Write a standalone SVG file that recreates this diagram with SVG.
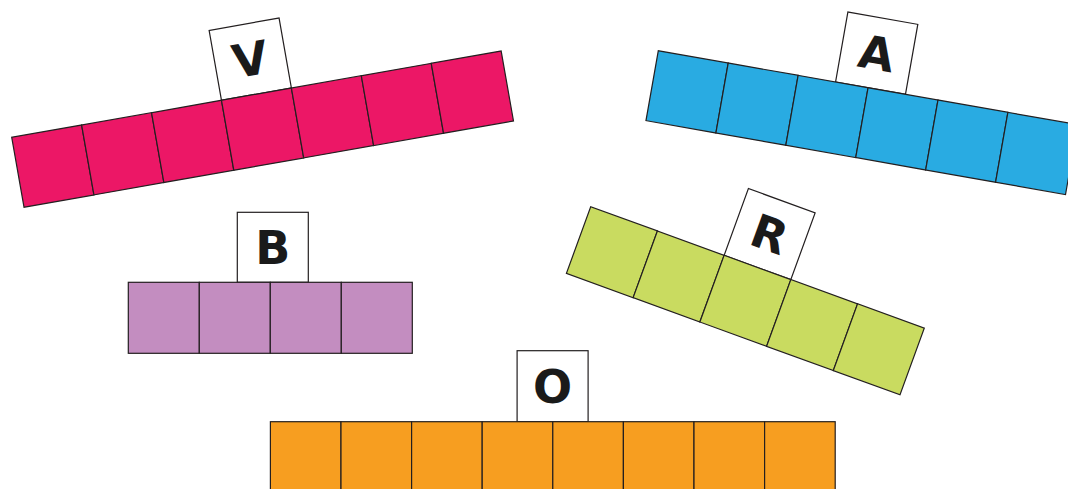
<svg xmlns="http://www.w3.org/2000/svg" width="1068" height="489" viewBox="0 0 1068 489">
<style>
.sq{stroke:#231F20;stroke-width:1.2}
.pink{fill:#EC1766}
.blue{fill:#29ABE2}
.purple{fill:#C38DC0}
.green{fill:#C9DB60}
.orange{fill:#F79E20}
.box{fill:#FFFFFF;stroke:#231F20;stroke-width:1.2}
.lt{font-family:"DejaVu Sans","Liberation Sans",sans-serif;font-weight:bold;font-size:46px;fill:#1A1A1A;text-anchor:middle}
</style>
<rect width="1068" height="489" fill="#FFFFFF"/>
<defs>
<rect id="cell" width="71" height="71"/>
</defs>
<g id="bar-v" transform="translate(11.7,137.3) rotate(-10)">
<rect class="box" x="213" y="-71" width="71" height="71"/>
<text class="lt" x="248.5" y="-19">V</text>
<g class="sq pink">
<use href="#cell" x="0"/><use href="#cell" x="71"/><use href="#cell" x="142"/><use href="#cell" x="213"/><use href="#cell" x="284"/><use href="#cell" x="355"/><use href="#cell" x="426"/>
</g>
</g>
<g id="bar-a" transform="translate(658.3,50.7) rotate(10)">
<rect class="box" x="180" y="-71" width="71" height="71"/>
<text class="lt" x="215.5" y="-19">A</text>
<g class="sq blue">
<use href="#cell" x="0"/><use href="#cell" x="71"/><use href="#cell" x="142"/><use href="#cell" x="213"/><use href="#cell" x="284"/><use href="#cell" x="355"/>
</g>
</g>
<g id="bar-b" transform="translate(128.3,282.3)">
<rect class="box" x="109" y="-70" width="71" height="70"/>
<text class="lt" x="144.5" y="-18">B</text>
<g class="sq purple">
<use href="#cell" x="0"/><use href="#cell" x="71"/><use href="#cell" x="142"/><use href="#cell" x="213"/>
</g>
</g>
<g id="bar-r" transform="translate(590.7,206.7) rotate(20)">
<rect class="box" x="142" y="-71" width="71" height="71"/>
<text class="lt" x="177.5" y="-19">R</text>
<g class="sq green">
<use href="#cell" x="0"/><use href="#cell" x="71"/><use href="#cell" x="142"/><use href="#cell" x="213"/><use href="#cell" x="284"/>
</g>
</g>
<g id="bar-o" transform="translate(270.4,421.7)">
<rect class="box" x="246.7" y="-71" width="71" height="71"/>
<text class="lt" x="282.2" y="-19">O</text>
<g class="sq orange">
<rect width="70.6" height="80" x="0"/><rect width="70.6" height="80" x="70.6"/><rect width="70.6" height="80" x="141.2"/><rect width="70.6" height="80" x="211.8"/><rect width="70.6" height="80" x="282.4"/><rect width="70.6" height="80" x="353"/><rect width="70.6" height="80" x="423.6"/><rect width="70.6" height="80" x="494.2"/>
</g>
</g>
</svg>
